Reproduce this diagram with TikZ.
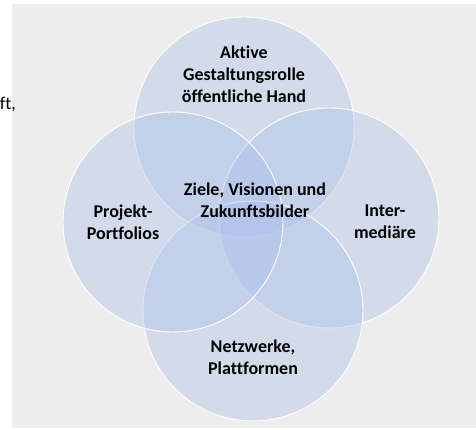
\documentclass[tikz,border=0pt]{standalone}
\usepackage{fontspec}
\setmainfont{Carlito}[Ligatures=NoCommon]
\usetikzlibrary{positioning}

\definecolor{panelgray}{RGB}{237,237,237}
\definecolor{ringblue}{RGB}{172,192,234}

\tikzset{
  ring/.style={circle, minimum size=220pt, inner sep=0pt, outer sep=0pt,
    fill=ringblue, fill opacity=0.4, draw=white, draw opacity=1, line width=0.9pt},
  lbl/.style={font=\bfseries\fontsize{18}{22}\selectfont, align=center, text=black}
}

\begin{document}
\begin{tikzpicture}[x=1pt,y=1pt]

  \useasboundingbox (0,0) rectangle (476,430);
  \fill[panelgray] (12,2) rectangle (476,426);
  \node (cut) [anchor=base east, inner sep=0pt, font=\fontsize{18}{22}\selectfont] at (16,320) {ft,};

  % circles, later ones lie over the earlier outlines
  \node (Akt) [ring] at (244,303) {};
  \node (Int) [ring] at (329,212) {};
  \node (Net) [ring] at (253,119) {};
  \node (Pro) [ring] at (173,208) {};

  \node (AktL) [lbl, yshift=53pt] at (Akt) {Aktive\\Gestaltungsrolle\\öffentliche Hand};
  \node (ProL) [lbl, xshift=-50pt] at (Pro) {Projekt-\\Portfolios};
  \node (IntL) [lbl, xshift=56pt, yshift=-4pt] at (Int) {Inter-\\mediäre};
  \node (NetL) [lbl, yshift=-46pt] at (Net) {Netzwerke,\\Plattformen};
  \node (Ziel) [lbl] at (255,230) {Ziele, Visionen und\\Zukunftsbilder};

\end{tikzpicture}
\end{document}
